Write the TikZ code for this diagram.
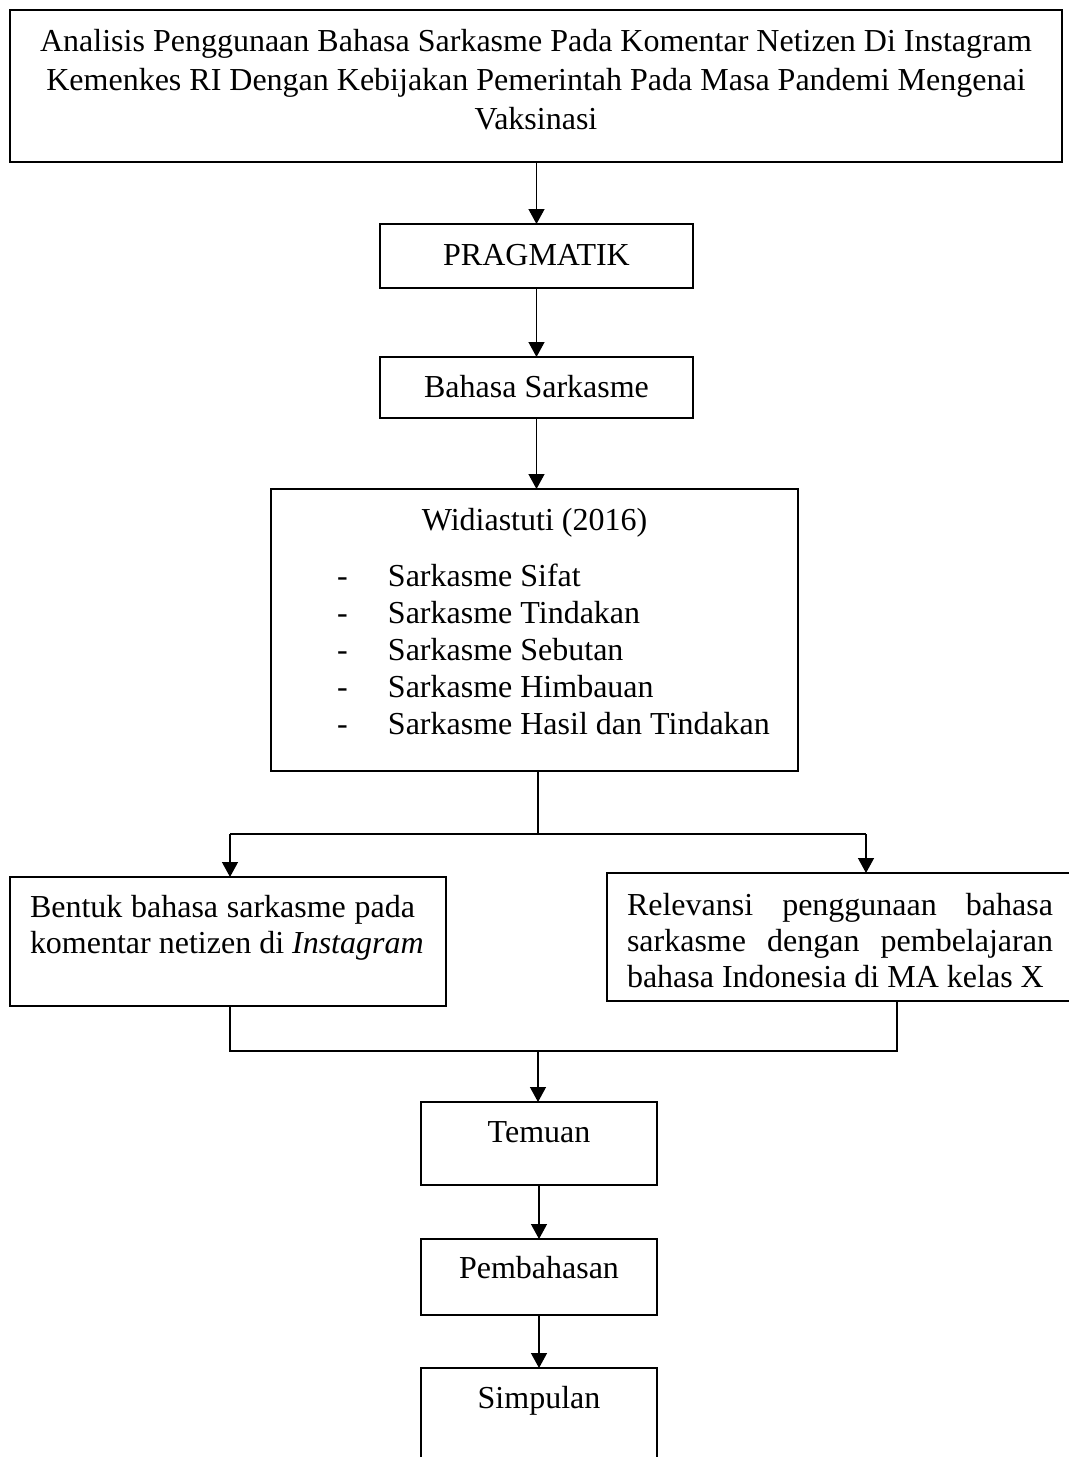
\documentclass[tikz,border=0pt]{standalone}
\usepackage{fontspec}
\setmainfont{Liberation Serif}
\usetikzlibrary{arrows.meta}
\begin{document}
\begin{tikzpicture}[x=0.5pt,y=-0.5pt,
  box/.style={draw, line width=0.65pt, inner sep=0pt, outer sep=0pt},
  openbox/.style={inner sep=0pt, outer sep=0pt},
  txt/.style={inner sep=0pt, outer sep=0pt, font=\fontsize{16pt}{18.5pt}\selectfont, anchor=base},
  conn/.style={line width=0.65pt},
  arr/.style={conn, -{Triangle[length=7.5pt,width=8pt]}}]
\fill[white] (0,0) rectangle (1069,1457);
\useasboundingbox (0,0) rectangle (1069,1457);

% boxes
\node[box, minimum width=526pt, minimum height=76pt] (top) at (536,86) {};
\node[box, minimum width=156.5pt, minimum height=32pt] (prag) at (536.5,256) {};
\node[box, minimum width=156.5pt, minimum height=30.5pt] (bahasa) at (536.5,387.5) {};
\node[box, minimum width=263.5pt, minimum height=141pt] (widi) at (534.5,630) {};
\node[box, minimum width=218pt, minimum height=64.5pt] (left) at (228,941.5) {};
\node[openbox, minimum width=231pt, minimum height=64pt] (right) at (838,937) {};
\draw[conn] (right.north east) -- (right.north west) -- (right.south west) -- (right.south east);
\node[box, minimum width=118pt, minimum height=41.5pt] (temuan) at (539,1143.5) {};
\node[box, minimum width=118pt, minimum height=38pt] (pemb) at (539,1277) {};
\node[openbox, minimum width=118pt, minimum height=44.5pt] (simp) at (539,1412.5) {};
\draw[conn] (simp.south west) -- (simp.north west) -- (simp.north east) -- (simp.south east);

% texts
\node[txt] (topT) at (536,51) {\vtop{\hsize=520pt\parindent=0pt\centering\baselineskip=19.5pt
  Analisis Penggunaan Bahasa Sarkasme Pada Komentar Netizen Di Instagram\par
  Kemenkes RI Dengan Kebijakan Pemerintah Pada Masa Pandemi Mengenai\par
  Vaksinasi\par}};
\node[txt] (pragT) at (536.5,265) {PRAGMATIK};
\node[txt] (bahasaT) at (536.5,397) {Bahasa Sarkasme};
\node[txt] (widiT) at (534.5,530) {Widiastuti (2016)};
\node[txt, anchor=base west] (listT) at (337,586) {\vtop{\baselineskip=18.5pt
  \hbox{\makebox[25.5pt][l]{-}Sarkasme Sifat}
  \hbox{\makebox[25.5pt][l]{-}Sarkasme Tindakan}
  \hbox{\makebox[25.5pt][l]{-}Sarkasme Sebutan}
  \hbox{\makebox[25.5pt][l]{-}Sarkasme Himbauan}
  \hbox{\makebox[25.5pt][l]{-}Sarkasme Hasil dan Tindakan}}};
\node[txt, anchor=base west] (leftT) at (30,917) {\vtop{\hsize=192.5pt\baselineskip=18pt
  \hbox to\hsize{Bentuk bahasa sarkasme pada}
  \hbox{komentar netizen di \textit{Instagram}}}};
\node[txt, anchor=base west] (rightT) at (627,915) {\vtop{\hsize=213pt\baselineskip=18pt
  \hbox to\hsize{Relevansi penggunaan bahasa}
  \hbox to\hsize{sarkasme dengan pembelajaran}
  \hbox{bahasa Indonesia di MA kelas X}}};
\node[txt] (temuanT) at (539,1142) {Temuan};
\node[txt] (pembT) at (539,1278) {Pembahasan};
\node[txt] (simpT) at (539,1408) {Simpulan};

% connectors
\draw[arr] (top.south -| prag.north) -- (prag.north);
\draw[arr] (prag.south) -- (bahasa.north);
\draw[arr] (bahasa.south) -- (bahasa.south |- widi.north);
\coordinate (sC) at (538,834);
\coordinate (sL) at (230,834);
\coordinate (sR) at (866,834);
\draw[conn] (widi.south -| sC) -- (sC);
\draw[conn] (sL) -- (sR);
\draw[arr] (sL) -- (sL |- left.north);
\draw[arr] (sR) -- (sR |- right.north);
\coordinate (jL) at (230,1051);
\coordinate (jR) at (897,1051);
\coordinate (jC) at (538,1051);
\draw[conn] (left.south -| jL) -- (jL) -- (jR) -- (right.south -| jR);
\draw[arr] (jC) -- (jC |- temuan.north);
\draw[arr] (temuan.south) -- (pemb.north);
\draw[arr] (pemb.south) -- (simp.north);
\end{tikzpicture}
\end{document}
